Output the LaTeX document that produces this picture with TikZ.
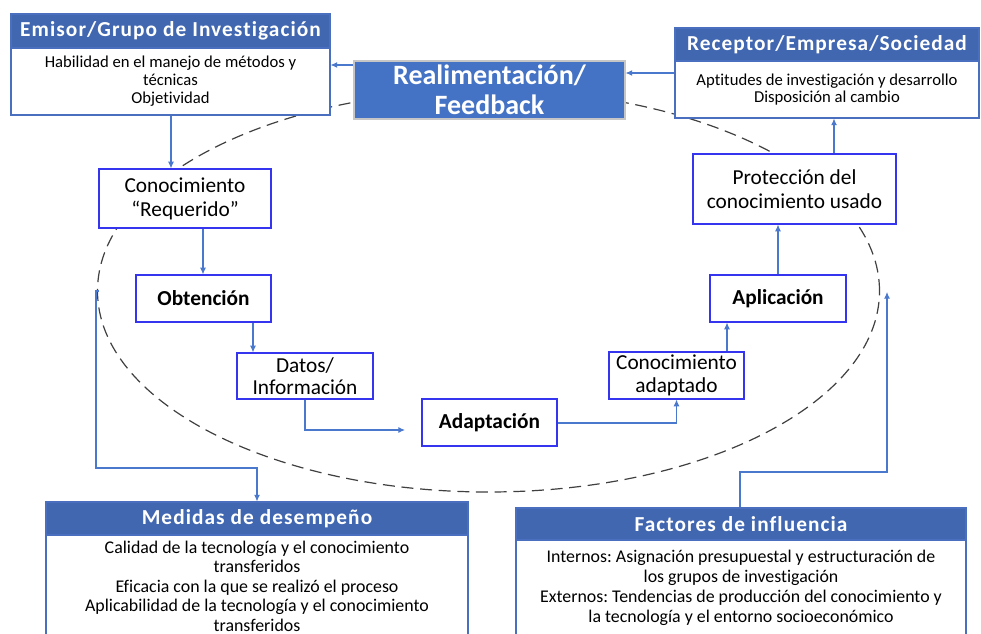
\documentclass[tikz,border=0pt]{standalone}
\usepackage{fontspec}
\setmainfont{Carlito}[Ligatures=NoCommon]
\newfontfamily\hdrfont{Carlito}[LetterSpace=5,Ligatures=NoCommon]
\usetikzlibrary{arrows.meta}
\definecolor{hdrblue}{HTML}{4167B1}
\definecolor{realblue}{HTML}{4472C4}
\definecolor{outblue}{HTML}{4A6FBF}
\definecolor{innerblue}{HTML}{3535F0}
\definecolor{arrowblue}{HTML}{4A78CC}
\definecolor{dashgray}{HTML}{404040}
\frenchspacing
\begin{document}
\begin{tikzpicture}[x=0.75pt,y=-0.75pt,
  arr/.style={draw=arrowblue,line width=0.8pt,-{Latex[length=5pt,width=4.5pt]}},
  inbox/.style={draw=innerblue,fill=white,line width=0.9pt,inner sep=0pt,align=center,font=\fontsize{16}{18}\selectfont},
  boldbox/.style={inbox,font=\bfseries\fontsize{16}{18}\selectfont},
  hdr/.style={fill=hdrblue,draw=outblue,line width=0.8pt,text=white,inner sep=0pt,font=\hdrfont\bfseries\fontsize{16}{18}\selectfont},
  bodybox/.style={draw=outblue,fill=white,line width=0.8pt,inner sep=0pt,align=center}]
\useasboundingbox (0,0) rectangle (981,634);
\fill[white] (0,0) rectangle (981,634);

% dashed loop
\draw[dashgray,line width=0.9pt,dash pattern=on 9pt off 5pt]
  (488.5,291) ellipse [x radius=293.25pt, y radius=150.75pt];

% top boxes
\node[hdr,minimum width=239.25pt,minimum height=25.5pt] (emisorH) at (170.5,31) {Emisor/Grupo de Investigación};
\node[bodybox,minimum width=239.25pt,minimum height=50.25pt,font=\fontsize{12.5}{13.5}\selectfont] (emisor) at (170.5,81.5)
  {Habilidad en el manejo de métodos y\\técnicas\\Objetividad};

\node[hdr,minimum width=228pt,minimum height=24.75pt] (receptorH) at (827,44.5) {Receptor/Empresa/Sociedad};
\node[bodybox,minimum width=228pt,minimum height=42.75pt,font=\fontsize{12.5}{12.75}\selectfont] (receptor) at (827,89.5)
  {Aptitudes de investigación y desarrollo\\Disposición al cambio};

\node[fill=realblue,draw=gray!45,line width=0.8pt,text=white,inner sep=0pt,align=center,
  font=\bfseries\fontsize{21}{22.5}\selectfont,minimum width=203.25pt,minimum height=43.5pt] (real) at (489.5,90)
  {Realimentación/\\Feedback};

% process boxes
\node[inbox,minimum width=129pt,minimum height=44.25pt] (conreq) at (185,198.5) {Conocimiento\\“Requerido”};
\node[boldbox,minimum width=101.25pt,minimum height=35.25pt] (obt) at (203.5,298.5) {Obtención};
\node[inbox,minimum width=102pt,minimum height=34.5pt,font=\fontsize{16}{16.5}\selectfont] (datos) at (305,376) {Datos/\\Información};
\node[boldbox,minimum width=101.25pt,minimum height=35.25pt] (adapt) at (489.5,422.5) {Adaptación};
\node[inbox,minimum width=101.25pt,minimum height=35.25pt,font=\fontsize{16}{17.25}\selectfont] (cad) at (676.5,375.5) {Conocimiento\\adaptado};
\node[boldbox,minimum width=102pt,minimum height=35.25pt] (apl) at (778,298.5) {Aplicación};
\node[inbox,minimum width=152.25pt,minimum height=52.5pt] (prot) at (794.5,189) {Protección del\\conocimiento usado};

% bottom boxes
\node[hdr,minimum width=316.5pt,minimum height=24.75pt] (medH) at (257,518.5) {Medidas de desempeño};
\node[bodybox,minimum width=316.5pt,minimum height=76.5pt,font=\fontsize{13.4}{14.6}\selectfont] (med) at (257,586)
  {Calidad de la tecnología y el conocimiento\\transferidos\\Eficacia con la que se realizó el proceso\\Aplicabilidad de la tecnología y el conocimiento\\transferidos};

\node[hdr,minimum width=337.5pt,minimum height=24pt] (facH) at (741,524) {Factores de influencia};
\node[bodybox,minimum width=337.5pt,minimum height=72pt,font=\fontsize{13.4}{15}\selectfont] (fac) at (741,588)
  {Internos: Asignación presupuestal y estructuración de\\los grupos de investigación\\Externos: Tendencias de producción del conocimiento y\\la tecnología y el entorno socioeconómico};

% connectors
\draw[arr] (real.west |- 0,65) -- (emisor.east |- 0,65);
\draw[arr] (receptor.west |- 0,73) -- (real.east |- 0,73);
\draw[arr] (emisor.south -| 171,0) -- (conreq.north -| 171,0);
\draw[arr] (conreq.south -| 203,0) -- (obt.north -| 203,0);
\draw[arr] (obt.south -| 253,0) -- (datos.north -| 253,0);
\coordinate (adin) at (405,430);
\draw[arr] (datos.south) |- (adin);
\draw[arr] (adapt.east |- 0,423) -| (cad.south);
\draw[arr] (cad.north -| 727,0) -- (apl.south -| 727,0);
\draw[arr] (apl.north) -- (prot.south -| apl.north);
\draw[arr] (prot.north -| 834,0) -- (receptor.south -| 834,0);
\coordinate (mstart) at (99,291);
\draw[arr] (mstart) -- (96,291) -- (96,468) -| (medH.north);
\coordinate (fend) at (887,292);
\draw[arr] (facH.north -| 740,0) |- (887,472) -- (fend);
\end{tikzpicture}
\end{document}
